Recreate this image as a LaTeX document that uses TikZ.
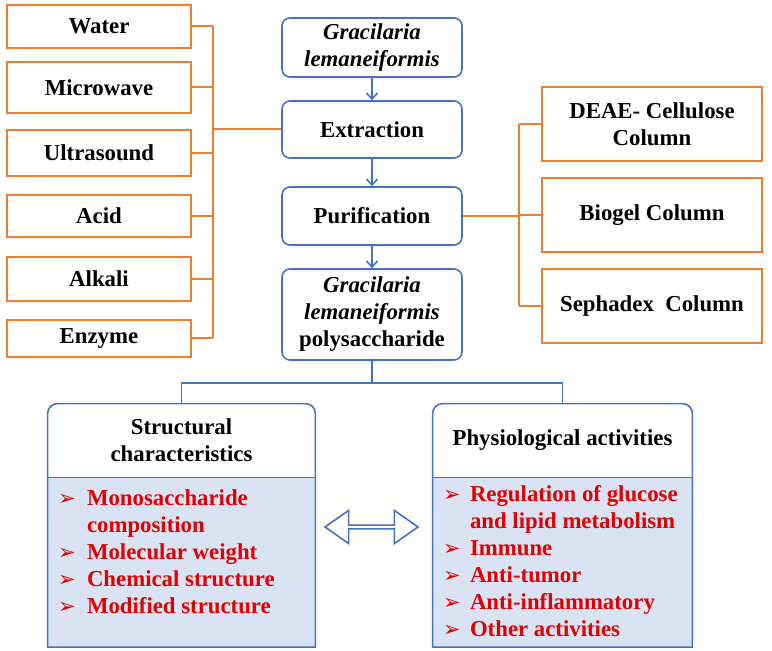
\documentclass[tikz,border=0pt]{standalone}
\usepackage{fontspec}
\setmainfont{Liberation Serif}
\newfontfamily\dingfont{DejaVu Sans}
\usepackage{tikz}
\usetikzlibrary{arrows.meta, positioning, calc, shapes.arrows}
\definecolor{boxblue}{RGB}{68,114,196}
\definecolor{lineorange}{RGB}{237,125,49}
\definecolor{listfill}{RGB}{218,227,243}
\definecolor{itemred}{RGB}{226,0,0}
\newcommand{\gl}{\textit{Gracilaria}\\\textit{lemaneiformis}}
\newcommand{\itm}{{\dingfont\fontsize{10.5}{10.5}\selectfont ➢}}

\begin{document}
\begin{tikzpicture}[x=0.5pt, y=-0.5pt,
  >={Straight Barb[length=3pt, width=5.5pt]},
  every node/.style={font=\fontsize{11.4}{13.5}\selectfont\bfseries},
  method/.style={draw=lineorange, line width=1pt, minimum width=92pt, align=center, inner sep=2pt},
  column/.style={draw=lineorange, line width=1pt, minimum width=110pt, minimum height=37pt, align=center},
  flow/.style={draw=boxblue, line width=0.8pt, rounded corners=4pt, minimum width=90pt, align=center, inner sep=2pt},
  head/.style={fill=white, minimum height=36.5pt, align=center, inner sep=0pt},
  body/.style={fill=listfill, minimum height=84.5pt, inner sep=0pt},
  olink/.style={lineorange, line width=1pt},
  blink/.style={boxblue, line width=0.8pt},
  items/.style={text=itemred, anchor=base west, inner sep=0pt}
]
\useasboundingbox (0,0) rectangle (772,651);
% extraction methods
\node[method, minimum height=21.5pt] (water)  at (99,26.5)  {Water};
\node[method, minimum height=25.5pt] (micro)  at (99,87.5)  {Microwave};
\node[method, minimum height=23pt]   (ultra)  at (99,153)   {Ultrasound};
\node[method, minimum height=21pt]   (acid)   at (99,216)   {Acid};
\node[method, minimum height=22pt]   (alkali) at (99,279)   {Alkali};
\node[method, minimum height=18.5pt] (enzyme) at (99,338.5) {Enzyme};
% main flow
\node[flow, minimum height=29.5pt] (alga)    at (372,47.5)  {\gl};
\node[flow, minimum height=28.5pt] (extract) at (372,129.5) {Extraction};
\node[flow, minimum height=29pt]   (purify)  at (372,216)   {Purification};
\node[flow, minimum height=45.5pt] (poly)    at (372,314.5) {\gl\\polysaccharide};
\draw[blink, ->] (alga) -- (extract);
\draw[blink, ->] (extract) -- (purify);
\draw[blink, ->] (purify) -- (poly);
% purification columns
\node[column] (deae)   at (652,124)   {DEAE- Cellulose\\Column};
\node[column] (biogel) at (652,215.5) {Biogel Column};
\node[column] (sepha)  at (652,306)   {Sephadex\ \ Column};
% orange brackets
\coordinate (lbus) at (213,0);
\draw[olink] (water.east -| lbus) -- (enzyme.east -| lbus);
\foreach \n in {water,micro,ultra,acid,alkali,enzyme}
  \draw[olink] (\n.east) -- (\n.east -| lbus);
\draw[olink] (extract.west -| lbus) -- (extract.west);
\coordinate (rbus) at (519,0);
\draw[olink] (deae.west -| rbus) -- (sepha.west -| rbus);
\foreach \n in {deae,biogel,sepha}
  \draw[olink] (\n.west -| rbus) -- (\n.west);
\draw[olink] (purify.east) -- (purify.east -| rbus);
% structure and activities
\node[head, minimum width=133.5pt] (shead) at (181.5,440.5) {Structural\\characteristics};
\node[body, minimum width=133.5pt, below=0pt of shead] (sbody) {};
\node[head, minimum width=129.5pt] (phead) at (562.5,440.5) {Physiological activities};
\node[body, minimum width=129.5pt, below=0pt of phead] (pbody) {};
\foreach \b/\h in {sbody/shead, pbody/phead} {
  \draw[blink] (\b.south west) [rounded corners=5pt] -- (\h.north west) -- (\h.north east)
    [sharp corners] -- (\b.south east) -- cycle;
  \draw[blink] (\h.south west) -- (\h.south east);
}
\node[items] (slist) at ($(sbody.north west)+(10,28)$) {%
  \begin{tabular}[t]{@{}p{14.5pt}@{}l@{}}
  \itm & Monosaccharide\\
       & composition\\
  \itm & Molecular weight\\
  \itm & Chemical structure\\
  \itm & Modified structure
  \end{tabular}};
\node[items] (plist) at ($(pbody.north west)+(10,24)$) {%
  \begin{tabular}[t]{@{}p{13.5pt}@{}l@{}}
  \itm & Regulation of glucose\\
       & and lipid metabolism\\
  \itm & Immune\\
  \itm & Anti-tumor\\
  \itm & Anti-inflammatory\\
  \itm & Other activities
  \end{tabular}};
\draw[blink] (poly.south) -- ++(0,22) coordinate (split);
\draw[blink] (shead.north) |- (split) -| (phead.north);
\node[double arrow, draw=boxblue, fill=white, line width=0.8pt, minimum height=46.5pt,
      minimum width=16.5pt, double arrow head extend=3pt, double arrow tip angle=70,
      inner sep=0pt] (dual) at (371.5,527) {};
\end{tikzpicture}
\end{document}
